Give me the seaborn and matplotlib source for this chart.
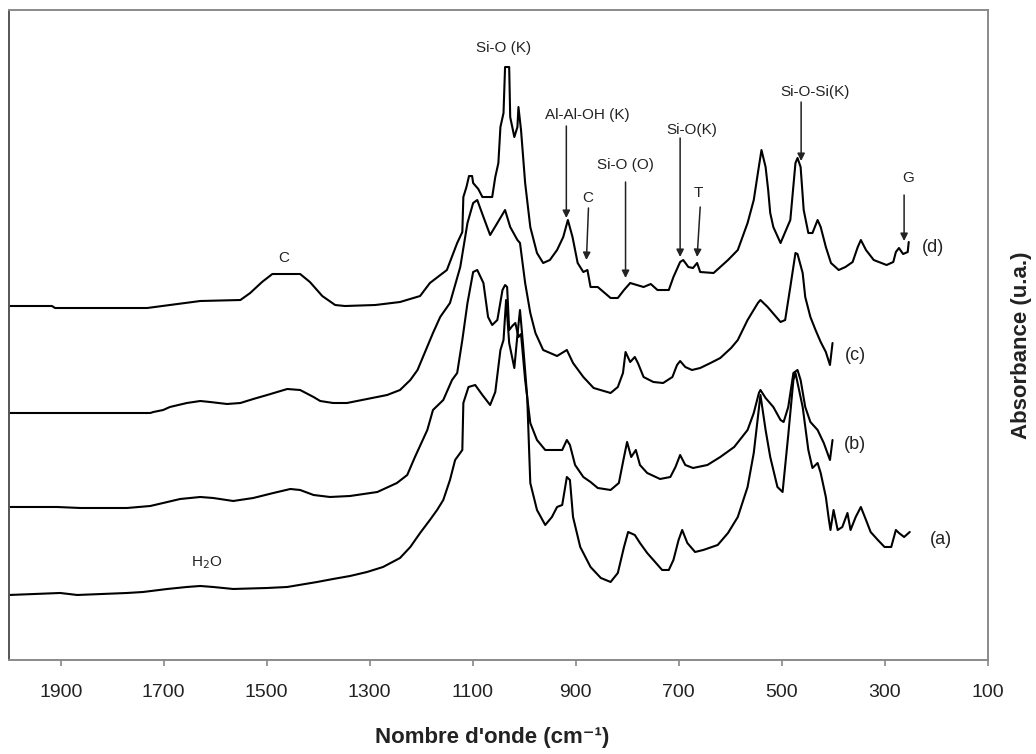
import matplotlib
matplotlib.use("Agg")
import matplotlib.pyplot as plt
import seaborn as sns
import pandas as pd

# ---- data (wavenumber in cm-1, absorbance in arbitrary units) ----
wn_d = [2000, 1917, 1911, 1732, 1688, 1629, 1551, 1532, 1509, 1489, 1435, 1416, 1392, 1367, 1348,
        1289, 1241, 1202, 1183, 1150, 1130, 1120, 1118, 1112, 1107, 1101, 1099, 1089, 1081, 1062,
        1056, 1050, 1046, 1040, 1037, 1029, 1027, 1019, 1013, 1011, 1006, 998, 988, 975, 963, 950,
        936, 924, 915, 906, 896, 885, 877, 871, 857, 832, 818, 806, 794, 781, 768, 754, 741, 719,
        710, 697, 691, 681, 672, 664, 658, 632, 604, 585, 566, 554, 546, 539, 531, 526, 522, 516,
        502, 483, 473, 469, 463, 457, 448, 440, 430, 424, 414, 404, 389, 376, 362, 352, 346, 336,
        321, 296, 283, 278, 272, 264, 255, 253]
ab_d = [0.708, 0.708, 0.704, 0.704, 0.710, 0.718, 0.720, 0.734, 0.756, 0.772, 0.772, 0.756, 0.728,
        0.710, 0.708, 0.710, 0.716, 0.728, 0.754, 0.780, 0.834, 0.856, 0.926, 0.946, 0.968, 0.968,
        0.954, 0.942, 0.926, 0.926, 0.966, 0.994, 1.066, 1.094, 1.186, 1.186, 1.086, 1.046, 1.066,
        1.106, 1.060, 0.954, 0.866, 0.814, 0.794, 0.800, 0.820, 0.846, 0.880, 0.846, 0.794, 0.776,
        0.780, 0.746, 0.746, 0.724, 0.724, 0.740, 0.754, 0.750, 0.746, 0.752, 0.740, 0.740, 0.766,
        0.796, 0.800, 0.786, 0.784, 0.794, 0.776, 0.774, 0.800, 0.820, 0.874, 0.920, 0.974, 1.020,
        0.986, 0.940, 0.894, 0.866, 0.834, 0.880, 0.994, 1.004, 0.986, 0.900, 0.854, 0.854, 0.880,
        0.866, 0.826, 0.794, 0.780, 0.786, 0.796, 0.826, 0.840, 0.820, 0.800, 0.790, 0.796, 0.816,
        0.824, 0.812, 0.816, 0.836]

wn_c = [2000, 1726, 1720, 1701, 1688, 1655, 1629, 1610, 1577, 1551, 1526, 1499, 1460, 1435, 1409,
        1396, 1371, 1344, 1305, 1266, 1241, 1221, 1207, 1177, 1163, 1144, 1124, 1110, 1099, 1091,
        1079, 1066, 1052, 1037, 1027, 1013, 1008, 998, 988, 978, 963, 936, 917, 905, 885, 865, 832,
        818, 808, 803, 794, 785, 779, 768, 749, 730, 712, 703, 697, 687, 674, 658, 638, 619, 598,
        585, 566, 546, 541, 527, 522, 502, 493, 483, 473, 469, 459, 454, 444, 434, 424, 414, 406, 401]
ab_c = [0.494, 0.494, 0.496, 0.500, 0.506, 0.514, 0.518, 0.516, 0.512, 0.514, 0.522, 0.530, 0.542,
        0.540, 0.526, 0.518, 0.514, 0.514, 0.522, 0.530, 0.540, 0.560, 0.580, 0.654, 0.686, 0.714,
        0.786, 0.874, 0.914, 0.920, 0.886, 0.850, 0.874, 0.900, 0.866, 0.840, 0.834, 0.754, 0.694,
        0.654, 0.620, 0.608, 0.620, 0.594, 0.566, 0.544, 0.534, 0.546, 0.574, 0.616, 0.596, 0.606,
        0.594, 0.566, 0.556, 0.554, 0.566, 0.590, 0.598, 0.586, 0.580, 0.584, 0.594, 0.604, 0.624,
        0.640, 0.680, 0.714, 0.720, 0.706, 0.700, 0.676, 0.680, 0.746, 0.814, 0.812, 0.774, 0.726,
        0.686, 0.660, 0.636, 0.616, 0.590, 0.634]

wn_b = [2000, 1907, 1862, 1771, 1726, 1701, 1668, 1629, 1604, 1565, 1526, 1487, 1454, 1435, 1409,
        1377, 1338, 1285, 1247, 1227, 1212, 1188, 1177, 1157, 1140, 1130, 1120, 1110, 1099, 1091,
        1079, 1070, 1062, 1052, 1042, 1037, 1033, 1029, 1023, 1017, 1011, 1006, 998, 988, 975, 959,
        926, 917, 911, 901, 885, 871, 857, 832, 816, 806, 800, 792, 783, 775, 761, 736, 716, 706,
        697, 687, 672, 644, 619, 592, 566, 554, 544, 541, 531, 516, 502, 496, 487, 477, 469, 463,
        454, 444, 430, 418, 406, 401]
ab_b = [0.306, 0.306, 0.304, 0.304, 0.308, 0.314, 0.322, 0.326, 0.324, 0.318, 0.324, 0.334, 0.342,
        0.340, 0.330, 0.326, 0.328, 0.336, 0.354, 0.370, 0.406, 0.460, 0.500, 0.520, 0.560, 0.574,
        0.640, 0.714, 0.776, 0.780, 0.754, 0.686, 0.670, 0.680, 0.740, 0.750, 0.746, 0.660, 0.668,
        0.674, 0.646, 0.652, 0.560, 0.474, 0.440, 0.420, 0.420, 0.440, 0.430, 0.390, 0.366, 0.356,
        0.344, 0.340, 0.354, 0.406, 0.436, 0.406, 0.420, 0.390, 0.374, 0.362, 0.366, 0.386, 0.410,
        0.390, 0.384, 0.390, 0.406, 0.426, 0.460, 0.494, 0.534, 0.540, 0.524, 0.506, 0.480, 0.476,
        0.506, 0.574, 0.580, 0.560, 0.506, 0.476, 0.460, 0.434, 0.400, 0.440]

wn_a = [2000, 1901, 1868, 1771, 1740, 1693, 1655, 1629, 1604, 1565, 1499, 1460, 1402, 1371, 1338,
        1305, 1274, 1241, 1221, 1202, 1183, 1169, 1157, 1144, 1134, 1120, 1118, 1108, 1095, 1081,
        1066, 1056, 1046, 1040, 1035, 1029, 1019, 1013, 1008, 1002, 994, 988, 975, 959, 946, 936,
        926, 917, 911, 905, 891, 871, 851, 832, 818, 806, 798, 785, 775, 761, 749, 732, 719, 710,
        700, 693, 683, 668, 652, 624, 604, 585, 566, 554, 541, 531, 522, 508, 498, 487, 477, 473,
        459, 448, 440, 430, 424, 414, 408, 405, 399, 391, 382, 372, 366, 356, 346, 336, 327, 313,
        300, 287, 278, 272, 262, 251]
ab_a = [0.130, 0.134, 0.130, 0.134, 0.136, 0.142, 0.146, 0.148, 0.146, 0.142, 0.144, 0.146, 0.156,
        0.162, 0.168, 0.176, 0.186, 0.204, 0.226, 0.254, 0.280, 0.300, 0.320, 0.360, 0.400, 0.420,
        0.514, 0.546, 0.550, 0.530, 0.510, 0.536, 0.620, 0.640, 0.720, 0.634, 0.584, 0.650, 0.700,
        0.630, 0.526, 0.354, 0.300, 0.270, 0.286, 0.306, 0.310, 0.366, 0.360, 0.286, 0.226, 0.186,
        0.164, 0.156, 0.174, 0.226, 0.256, 0.250, 0.234, 0.214, 0.200, 0.180, 0.180, 0.200, 0.240,
        0.260, 0.234, 0.216, 0.220, 0.230, 0.254, 0.286, 0.346, 0.414, 0.530, 0.460, 0.406, 0.346,
        0.336, 0.450, 0.560, 0.574, 0.506, 0.420, 0.384, 0.394, 0.374, 0.326, 0.280, 0.260, 0.300,
        0.260, 0.266, 0.294, 0.260, 0.286, 0.306, 0.280, 0.256, 0.240, 0.226, 0.226, 0.260, 0.254,
        0.246, 0.256]

x_ticks = [1900, 1700, 1500, 1300, 1100, 900, 700, 500, 300, 100]

# curve labels: text, wavenumber, absorbance
curve_labels = [("(d)", 206, 0.826), ("(c)", 357, 0.610), ("(b)", 357, 0.430), ("(a)", 190, 0.240)]

# band annotations: text, text position (wn, A), arrow start (wn, A), arrow end (wn, A)
band_arrows = [
    ("Al-Al-OH (K)", (877, 1.090), (918, 1.068), (918, 0.884)),
    ("C", (877, 0.924), (875, 0.904), (879, 0.800)),
    ("Si-O (O)", (803, 0.990), (803, 0.956), (803, 0.764)),
    ("Si-O(K)", (675, 1.060), (697, 1.044), (697, 0.806)),
    ("T", (661, 0.934), (658, 0.906), (664, 0.806)),
    ("Si-O-Si(K)", (434, 1.136), (462, 1.116), (462, 0.998)),
    ("G", (255, 0.964), (262, 0.930), (262, 0.838)),
]
band_texts = [("Si-O (K)", 1039, 1.224), ("C", 1467, 0.804), ("H$_2$O", 1616, 0.194)]

# ---- plot ----
sns.set_style("white")
plt.rcParams["font.family"] = ["Liberation Sans", "DejaVu Sans"]

fig = plt.figure(figsize=(10.36, 7.54), dpi=100)
ax = fig.add_axes([0.0089, 0.1247, 0.9443, 0.862])

series = [("d", wn_d, ab_d), ("c", wn_c, ab_c), ("b", wn_b, ab_b), ("a", wn_a, ab_a)]
for name, wn, ab in series:
    df = pd.DataFrame({"wn": wn, "A": ab})
    sns.lineplot(data=df, x="wn", y="A", ax=ax, color="black", lw=1.5,
                 sort=False, estimator=None)

ax.set_xlim(2000, 100)
ax.set_ylim(0, 1.3)
ax.set_xticks(x_ticks)
ax.set_xticklabels([str(t) for t in x_ticks], fontsize=14, color="#222222")
ax.set_yticks([])
ax.set_xlabel("")
ax.set_ylabel("")
ax.tick_params(axis="x", direction="out", length=4, width=1.2, color="#888888", pad=13,
               bottom=True)
for side in ["top", "right", "bottom"]:
    ax.spines[side].set_color("#8a8a8a")
    ax.spines[side].set_linewidth(1.4)
ax.spines["left"].set_color("#555555")
ax.spines["left"].set_linewidth(1.4)

for txt, x, y in curve_labels:
    ax.text(x, y, txt, fontsize=13, ha="center", va="center", color="#222222")

for txt, tpos, a0, a1 in band_arrows:
    ax.text(tpos[0], tpos[1], txt, fontsize=11, ha="center", va="center", color="#222222")
    ax.annotate("", xy=a1, xytext=a0,
                arrowprops=dict(arrowstyle="-|>", color="#222222", lw=1.1,
                                mutation_scale=11, shrinkA=0, shrinkB=0))

for txt, x, y in band_texts:
    ax.text(x, y, txt, fontsize=11, ha="center", va="center", color="#222222")

fig.text(492 / 1036, 1 - 737 / 754, "Nombre d'onde (cm⁻¹)", fontsize=16, fontweight="bold",
         ha="center", va="center", color="#222222")
fig.text(1021 / 1036, 1 - 345 / 754, "Absorbance (u.a.)", fontsize=16, fontweight="bold",
         rotation=90, ha="center", va="center", color="#222222")

fig.savefig("out.png", dpi=100, facecolor="white")
